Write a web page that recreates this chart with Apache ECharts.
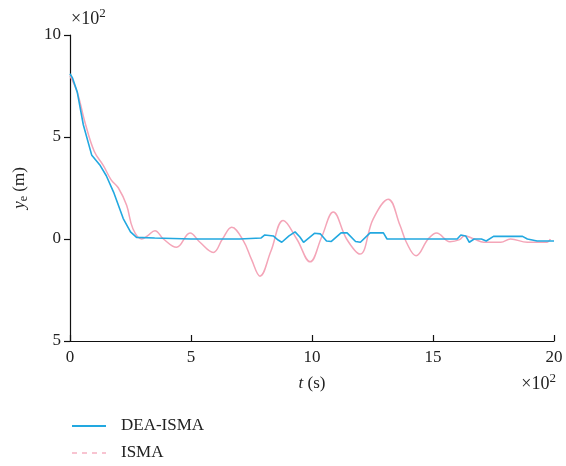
<!DOCTYPE html>
<html>
<head>
<meta charset="utf-8">
<script src="https://cdn.jsdelivr.net/npm/echarts@6/dist/echarts.min.js"></script>
<style>
html,body{margin:0;padding:0;background:#fff;}
#chart{width:566px;height:466px;}
</style>
</head>
<body>
<div id="chart"></div>
<script>
// time in units of 10^2 s, values in units of 10^2 m
var deaT = [0, 0.1, 0.3, 0.55, 0.9, 1.25, 1.5, 1.8, 2.2, 2.5, 2.75, 3.5, 5.0, 7.0, 7.9, 8.05, 8.4, 8.6, 8.75, 9.05, 9.3, 9.5, 9.65, 10.1, 10.35, 10.6, 10.8, 11.2, 11.45, 11.8, 12.0, 12.4, 12.95, 13.1, 16.0, 16.15, 16.35, 16.5, 16.7, 17.0, 17.2, 17.5, 18.7, 18.9, 19.3, 20];
var deaY = [8.1, 7.9, 7.2, 5.6, 4.1, 3.6, 3.1, 2.3, 1.0, 0.35, 0.08, 0.05, 0.0, 0.0, 0.05, 0.2, 0.15, -0.05, -0.16, 0.15, 0.35, 0.1, -0.16, 0.28, 0.25, -0.1, -0.12, 0.3, 0.3, -0.12, -0.16, 0.3, 0.3, 0.0, 0.0, 0.2, 0.15, -0.16, 0.0, 0.0, -0.1, 0.13, 0.13, 0.0, -0.1, -0.1];

var ismaT = [0, 0.3, 0.6, 1.0, 1.38, 1.7, 2.0, 2.34, 2.6, 2.96, 3.2, 3.51, 3.86, 4.4, 4.96, 5.37, 5.92, 6.3, 6.68, 7.16, 7.5, 7.85, 8.3, 8.81, 9.37, 9.92, 10.4, 10.88, 11.43, 11.98, 12.53, 13.15, 13.64, 13.9, 14.3, 14.8, 15.15, 15.7, 16.1, 16.3, 16.7, 17.1, 17.8, 18.2, 18.9, 19.7, 19.85];
var ismaY = [8.0, 7.2, 5.8, 4.3, 3.6, 2.9, 2.5, 1.65, 0.5, 0.0, 0.15, 0.41, 0.0, -0.41, 0.3, -0.16, -0.66, 0.0, 0.58, -0.08, -1.0, -1.82, -0.6, 0.91, 0.0, -1.12, 0.1, 1.32, 0.0, -0.74, 0.99, 1.95, 0.66, -0.16, -0.82, 0.0, 0.3, -0.13, -0.03, 0.16, 0.0, -0.16, -0.16, 0.0, -0.16, -0.16, 0.0];

var xTicks = [0, 5, 10, 15, 20];
var yTicks = [-5, 0, 5, 10];

function pairs(xs, ys){
	var out = [];
	for(var i = 0; i < xs.length; i++){
		out.push([xs[i], ys[i]]);
	}
	return out;
}

var serif = "'Liberation Serif', 'DejaVu Serif', serif";
var blue = '#22A8E0';
var pink = '#F4A5B8';
// "×10" with a raised 2
var powRich = {
	b: {fontFamily: serif, fontSize: 18, fill: '#222', color: '#222', padding: [6, 0, 0, 0]},
	p: {fontFamily: serif, fontSize: 13, fill: '#222', color: '#222', padding: [0, 0, 6, 0]}
};

var chart = echarts.init(document.getElementById('chart'));
var option = {
	animation: false,
	backgroundColor: '#fff',
	grid: {left: 70, right: 12, top: 35, bottom: 125},
	xAxis: {
		type: 'value',
		min: xTicks[0], max: xTicks[xTicks.length-1], interval: 5,
		name: '{i|t} (s)',
		nameLocation: 'middle',
		nameGap: 34,
		nameTextStyle: {
			fontFamily: serif, fontSize: 17, color: '#222',
			rich: {i: {fontFamily: serif, fontSize: 17, fontStyle: 'italic', color: '#222'}}
		},
		axisLine: {onZero: false, lineStyle: {color: '#111', width: 1.2}},
		axisTick: {inside: true, length: 6, lineStyle: {color: '#111', width: 1.2}},
		axisLabel: {fontFamily: serif, fontSize: 17, color: '#222', margin: 8},
		splitLine: {show: false}
	},
	yAxis: {
		type: 'value',
		min: yTicks[0], max: yTicks[yTicks.length-1], interval: 5,
		name: '{i|y}{s|e} (m)',
		nameLocation: 'middle',
		nameGap: 40,
		nameTextStyle: {
			fontFamily: serif, fontSize: 17, color: '#222',
			rich: {
				i: {fontFamily: serif, fontSize: 17, fontStyle: 'italic', color: '#222'},
				s: {fontFamily: serif, fontSize: 12, color: '#222', padding: [8, 0, 0, 0]}
			}
		},
		axisLine: {show: true, onZero: false, lineStyle: {color: '#111', width: 1.2}},
		axisTick: {show: true, length: 6, lineStyle: {color: '#111', width: 1.2}},
		axisLabel: {
			fontFamily: serif, fontSize: 17, color: '#222', margin: 9,
			formatter: function(v){ return String(Math.abs(v)); }
		},
		splitLine: {show: false}
	},
	legend: {
		orient: 'vertical',
		left: 66, top: 411, height: 54,
		itemWidth: 34, itemHeight: 14, itemGap: 7,
		itemStyle: {opacity: 0},
		textStyle: {fontFamily: serif, fontSize: 17, color: '#222', lineHeight: 20, padding: [0, 0, 0, 10]},
		data: [
			{name: 'DEA-ISMA', lineStyle: {width: 2}},
			{name: 'ISMA', lineStyle: {type: [5, 5], width: 1.3}}
		]
	},
	graphic: [
		{type: 'text', left: 71, top: 7, style: {text: '{b|×10}{p|2}', rich: powRich}},
		{type: 'text', right: 10, top: 372, style: {text: '{b|×10}{p|2}', rich: powRich}}
	],
	series: [
		{
			name: 'ISMA', type: 'line', symbol: 'none', smooth: 0.4,
			lineStyle: {color: pink, width: 1.5},
			itemStyle: {color: pink},
			data: pairs(ismaT, ismaY),
			z: 2
		},
		{
			name: 'DEA-ISMA', type: 'line', symbol: 'none',
			lineStyle: {color: blue, width: 1.6},
			itemStyle: {color: blue},
			data: pairs(deaT, deaY),
			z: 3
		}
	]
};
chart.setOption(option);
</script>
</body>
</html>
